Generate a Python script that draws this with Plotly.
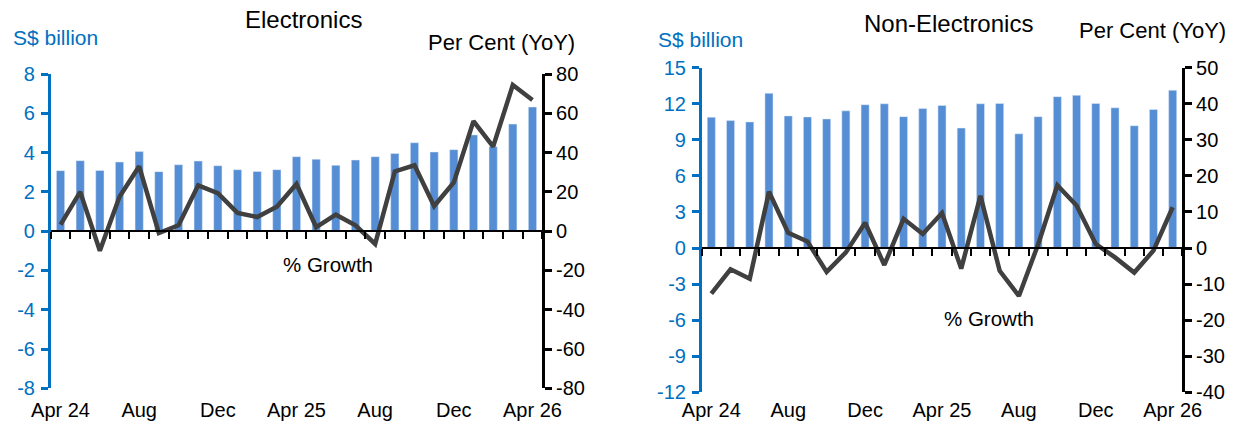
import plotly.graph_objects as go

# ---------------- data ----------------
months = ["Apr 24", "May 24", "Jun 24", "Jul 24", "Aug 24", "Sep 24", "Oct 24", "Nov 24",
          "Dec 24", "Jan 25", "Feb 25", "Mar 25", "Apr 25", "May 25", "Jun 25", "Jul 25",
          "Aug 25", "Sep 25", "Oct 25", "Nov 25", "Dec 25", "Jan 26", "Feb 26", "Mar 26", "Apr 26"]
tick_labels = ["Apr 24", "Aug", "Dec", "Apr 25", "Aug", "Dec", "Apr 26"]

elec_value = [3.08, 3.59, 3.09, 3.52, 4.05, 3.03, 3.38, 3.57, 3.33, 3.13, 3.04, 3.13, 3.79,
              3.66, 3.35, 3.62, 3.79, 3.95, 4.50, 4.03, 4.15, 4.90, 4.30, 5.45, 6.32]
elec_growth = [3.3, 20.0, -10.0, 17.5, 33.0, -1.0, 3.0, 23.3, 19.3, 9.3, 7.2, 12.4, 24.0,
               2.0, 8.4, 3.0, -6.5, 30.4, 33.5, 12.8, 24.8, 56.0, 43.0, 74.4, 66.8]
nonelec_value = [10.88, 10.60, 10.49, 12.87, 10.99, 10.90, 10.74, 11.41, 11.92, 12.00, 10.93,
                 11.60, 11.86, 9.98, 12.00, 12.03, 9.50, 10.93, 12.59, 12.70, 12.03, 11.66,
                 10.17, 11.52, 13.12]
nonelec_growth = [-12.65, -5.9, -8.5, 15.6, 4.2, 1.8, -6.6, -1.2, 7.0, -4.7, 8.1, 3.9, 9.7,
                  -5.7, 14.5, -6.3, -13.3, 1.0, 17.4, 11.8, 1.1, -2.6, -6.8, -0.7, 11.3]

elec_value_ticks = [-8, -6, -4, -2, 0, 2, 4, 6, 8]
elec_growth_ticks = [-80, -60, -40, -20, 0, 20, 40, 60, 80]
nonelec_value_ticks = [-12, -9, -6, -3, 0, 3, 6, 9, 12, 15]
nonelec_growth_ticks = [-40, -30, -20, -10, 0, 10, 20, 30, 40, 50]

# ---------------- styling ----------------
W, H = 1245, 430
FONT = "Liberation Sans, Arial, sans-serif"
BLUE_AX = "#0070C0"
BAR = "#558ED5"
LINE = "#404040"
TICK_SIZE = 20


def px(x):
    return x / W


def py(y):
    return 1 - y / H


n = len(months)
xs = list(range(n))
tick_pos = [xs[months.index(m)] for m in months if m.startswith(("Apr", "Aug", "Dec"))]
bounds = [i - 0.5 for i in range(n + 1)]
xrange_ = [-0.5, n - 0.5]

fig = go.Figure()

# Left panel
fig.add_trace(go.Bar(x=xs, y=elec_value, marker_color=BAR, xaxis="x", yaxis="y",
                     showlegend=False))
fig.add_trace(go.Scatter(x=xs, y=elec_growth, mode="lines", line=dict(color=LINE, width=4.5),
                         xaxis="x", yaxis="y2", showlegend=False))
fig.add_trace(go.Scatter(x=[xs[0]], y=[0], mode="markers", marker=dict(opacity=0),
                         xaxis="x3", yaxis="y", showlegend=False, hoverinfo="skip"))
# Right panel
fig.add_trace(go.Bar(x=xs, y=nonelec_value, marker_color=BAR, xaxis="x2", yaxis="y3",
                     showlegend=False))
fig.add_trace(go.Scatter(x=xs, y=nonelec_growth, mode="lines", line=dict(color=LINE, width=4.5),
                         xaxis="x2", yaxis="y4", showlegend=False))
fig.add_trace(go.Scatter(x=[xs[0]], y=[0], mode="markers", marker=dict(opacity=0),
                         xaxis="x4", yaxis="y3", showlegend=False, hoverinfo="skip"))

L_dom_x = [px(50.7), px(542.3)]
L_dom_y = [py(388.3), py(74)]
R_dom_x = [px(701.7), px(1182.3)]
R_dom_y = [py(392.3), py(67.7)]

label_axis = dict(range=xrange_, tickmode="array", tickvals=tick_pos, ticktext=tick_labels,
                  showline=False, ticks="", showgrid=False, zeroline=False, automargin=False,
                  tickfont=dict(family=FONT, size=TICK_SIZE, color="black"))
zero_axis = dict(range=xrange_, tickmode="array", tickvals=bounds, showticklabels=False,
                 showline=True, linecolor="black", linewidth=2, ticks="outside", ticklen=7,
                 tickwidth=2, tickcolor="black", showgrid=False, zeroline=False, anchor="free",
                 automargin=False)


def yax(vals, color, **kw):
    return dict(range=[vals[0], vals[-1]], tickmode="array", tickvals=vals,
                ticktext=[str(v) for v in vals], showline=True, linecolor=color,
                linewidth=2.5, ticks="outside", ticklen=7, tickwidth=2.5, tickcolor=color,
                showgrid=False, zeroline=False, automargin=False,
                tickfont=dict(family=FONT, size=TICK_SIZE, color=color), **kw)


fig.update_layout(
    width=W, height=H,
    margin=dict(l=0, r=0, t=0, b=0),
    paper_bgcolor="white", plot_bgcolor="rgba(0,0,0,0)",
    bargap=0.58,
    font=dict(family=FONT, color="black"),
    xaxis=dict(domain=L_dom_x, anchor="y", ticklabelstandoff=8, **label_axis),
    xaxis3=dict(overlaying="x", position=py(231.2), **zero_axis),
    yaxis=yax(elec_value_ticks, BLUE_AX, domain=L_dom_y, anchor="x", ticklabelstandoff=2),
    yaxis2=yax(elec_growth_ticks, "black", overlaying="y", side="right", anchor="x"),
    xaxis2=dict(domain=R_dom_x, anchor="y3", ticklabelstandoff=4, **label_axis),
    xaxis4=dict(overlaying="x2", position=py(248), **zero_axis),
    yaxis3=yax(nonelec_value_ticks, BLUE_AX, domain=R_dom_y, anchor="x2", ticklabelstandoff=2),
    yaxis4=yax(nonelec_growth_ticks, "black", overlaying="y3", side="right", anchor="x2"),
)


def ann(text, x, y, xanchor, size, color="black"):
    fig.add_annotation(text=text, x=px(x), y=py(y), xref="paper", yref="paper",
                       xanchor=xanchor, yanchor="middle", showarrow=False,
                       font=dict(family=FONT, size=size, color=color))


ann("Electronics", 303, 19, "center", 24)
ann("S$ billion", 11, 37, "left", 21, BLUE_AX)
ann("Per Cent (YoY)", 577, 42, "right", 22)
ann("% Growth", 328, 264, "center", 20.5)

ann("Non-Electronics", 948, 23, "center", 24)
ann("S$ billion", 656, 40, "left", 21, BLUE_AX)
ann("Per Cent (YoY)", 1228, 30, "right", 22)
ann("% Growth", 989, 318, "center", 20.5)

# remove the default page margin so the 1245x430 figure fills the window exactly
fig.write_html("out.html", config={"displayModeBar": False},
               post_script="document.body.style.margin='0';")
